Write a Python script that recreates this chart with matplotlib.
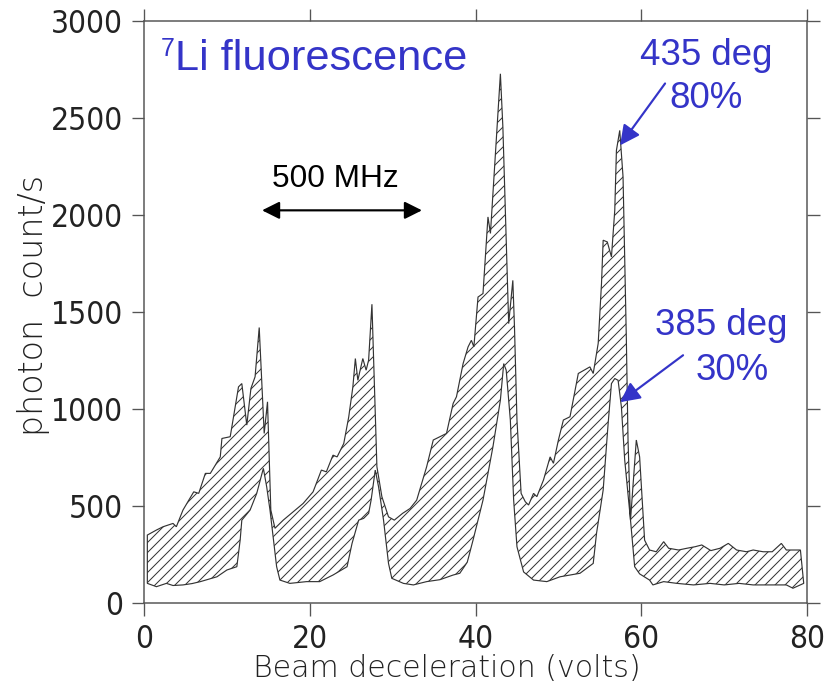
import numpy as np
import matplotlib
matplotlib.use("Agg")
import matplotlib.pyplot as plt

# upper envelope (volts, counts/s)
upper_x = [0.4, 1.5, 2.3, 3.5, 3.9, 4.7, 6.0, 6.6, 7.4, 8.0, 9.2, 9.4, 10.4, 11.4, 11.8,
           12.4, 12.9, 13.4, 13.9, 14.5, 14.9, 15.3, 15.8, 16.8, 18.0, 19.2, 20.4, 21.4,
           22.0, 22.8, 23.3, 24.1, 24.7, 25.2, 25.5, 25.8, 26.4, 26.8, 27.1, 27.5, 28.1,
           28.7, 29.5, 30.2, 31.2, 32.1, 32.9, 34.1, 34.9, 35.7, 36.5, 37.3, 37.7, 38.5,
           39.1, 39.5, 39.8, 40.3, 40.9, 41.5, 41.8, 42.1, 42.6, 43.0, 43.3, 44.0, 44.5,
           44.7, 45.0, 45.5, 46.0, 46.4, 47.0, 47.4, 48.2, 49.0, 49.4, 50.0, 50.6, 51.4,
           52.4, 53.8, 54.2, 54.8, 55.2, 55.4, 55.9, 56.4, 56.8, 57.0, 57.4, 57.8, 58.2,
           58.4, 58.7, 59.4, 59.8, 60.4, 61.0, 61.8, 62.7, 63.3, 64.5, 65.5, 66.5, 67.3,
           68.4, 69.5, 70.5, 71.5, 72.7, 73.5, 74.7, 75.8, 76.9, 77.5, 79.2, 79.6]
upper_y = [350, 376, 393, 410, 393, 479, 573, 565, 668, 668, 753, 848, 857, 1114, 1131,
           917, 1106, 1166, 1420, 874, 1037, 479, 385, 427, 470, 513, 573, 685,
           676, 762, 753, 822, 959, 1114, 1260, 1148, 1260, 1200, 1252, 1540, 702,
           548, 444, 427, 462, 487, 530, 702, 840, 857, 874, 1029, 1063, 1234,
           1320, 1354, 1320, 1577, 1595, 1990, 1905, 2110, 2453, 2728, 2453, 1440, 1663,
           1423, 943, 565, 522, 505, 565, 548, 634, 753, 720, 840, 943, 960,
           1183, 1217, 1183, 1338, 1647, 1870, 1861, 1784, 2024, 2333, 2436, 2196, 1355,
           840, 427, 840, 753, 324, 273, 264, 316, 282, 273, 282, 290, 299,
           270, 282, 307, 273, 264, 273, 264, 264, 307, 273, 273, 101]

# lower envelope
lower_x = [0.4, 1.5, 2.7, 3.5, 4.7, 5.8, 6.8, 8.8, 10.0, 11.2, 11.6, 11.8, 12.8, 13.6,
           14.4, 14.8, 15.2, 16.0, 16.4, 17.6, 19.6, 21.2, 22.8, 24.5, 25.1, 25.9, 26.5,
           27.1, 27.4, 27.9, 28.3, 28.9, 29.5, 29.9, 31.3, 32.5, 34.1, 35.7, 37.3, 38.1,
           39.0, 39.7, 40.9, 42.1, 43.0, 43.4, 43.7, 44.2, 44.6, 45.0, 45.8, 47.0, 48.6,
           50.2, 52.6, 54.2, 54.6, 55.4, 56.0, 56.4, 56.8, 57.2, 57.6, 58.0, 58.7, 59.2,
           59.8, 61.0, 61.4, 62.7, 64.3, 66.3, 68.3, 70.0, 71.8, 73.5, 75.5, 77.5, 78.3,
           79.6]
lower_y = [101, 84, 101, 90, 93, 100, 110, 135, 170, 187, 324, 427, 479, 565,
           694, 599, 479, 187, 118, 101, 110, 110, 144, 187, 307, 427, 436,
           462, 530, 685, 599, 427, 204, 127, 101, 93, 110, 120, 144, 153,
           210, 324, 530, 805, 1046, 1234, 1200, 943, 530, 290, 160, 118, 110,
           135, 153, 204, 359, 582, 925, 1131, 1157, 1148, 1011, 737, 427, 187,
           150, 118, 93, 110, 101, 93, 101, 93, 101, 93, 93, 93, 76,
           101]

x_ticks = [0, 20, 40, 60, 80]
y_ticks = [0, 500, 1000, 1500, 2000, 2500, 3000]

BLUE = '#3434c8'
GREY = '#555555'

plt.rcParams['hatch.linewidth'] = 0.6

fig = plt.figure(figsize=(832 / 120, 691 / 120), dpi=120)
ax = fig.add_axes([0.1731, 0.1274, 0.7969, 0.8422])

# hatched band between the two envelopes
poly_x = np.r_[upper_x, lower_x[::-1]]
poly_y = np.r_[upper_y, lower_y[::-1]]
ax.fill(poly_x, poly_y, facecolor='none', edgecolor='#333333', hatch='////', lw=0.7)

ax.set_xlim(0, 80)
ax.set_ylim(0, 3000)
ax.set_xticks(x_ticks)
ax.set_yticks(y_ticks)
ax.tick_params(direction='out', length=7.5, width=0.8, color=GREY,
               top=True, right=True, labelsize=19, pad=5, labelcolor='#222222')
for lab in ax.get_xticklabels() + ax.get_yticklabels():
  lab.set_family(['DejaVu Sans'])
  lab.set_fontweight('light')
  lab.set_fontstretch('condensed')
for sp in ax.spines.values():
  sp.set_color(GREY)
  sp.set_linewidth(0.9)

ax.set_xlabel('Beam deceleration (volts)', fontsize=18, family='DejaVu Sans',
              fontweight='light', color='#222222')
ax.xaxis.set_label_coords(0.457, -0.088)
ax.set_ylabel('photon  count/s', fontsize=20, family='DejaVu Sans',
              fontweight='light', color='#222222')
ax.yaxis.set_label_coords(-0.142, 0.512)

# annotations
sans = ['Liberation Sans', 'DejaVu Sans']
ax.text(2.05, 2920, '7', color=BLUE, fontsize=15, family=sans, va='top', ha='left')
ax.text(3.74, 2745, 'Li fluorescence', color=BLUE, fontsize=26, family=sans,
        va='baseline', ha='left')

ax.text(23.05, 2143, '500 MHz', color='black', fontsize=19, family=sans,
        va='baseline', ha='center')
ax.annotate('', xy=(33.54, 2024), xytext=(14.24, 2024),
            arrowprops=dict(arrowstyle='<|-|>', color='black', lw=1.3,
                            mutation_scale=22, shrinkA=0, shrinkB=0))

ax.text(67.8, 2771, '435 deg', color=BLUE, fontsize=22, family=sans,
        va='baseline', ha='center')
ax.text(67.8, 2549, '80%', color=BLUE, fontsize=22, family=sans,
        va='baseline', ha='center')
ax.annotate('', xy=(57.44, 2359), xytext=(62.87, 2678),
            arrowprops=dict(arrowstyle='-|>', color=BLUE, lw=1.3,
                            mutation_scale=25, shrinkA=0, shrinkB=0))

ax.text(69.7, 1380, '385 deg', color=BLUE, fontsize=22, family=sans,
        va='baseline', ha='center')
ax.text(71.0, 1149, '30%', color=BLUE, fontsize=22, family=sans,
        va='baseline', ha='center')
ax.annotate('', xy=(57.44, 1035), xytext=(65.04, 1277),
            arrowprops=dict(arrowstyle='-|>', color=BLUE, lw=1.3,
                            mutation_scale=25, shrinkA=0, shrinkB=0))

fig.savefig('out.png', dpi=120)
